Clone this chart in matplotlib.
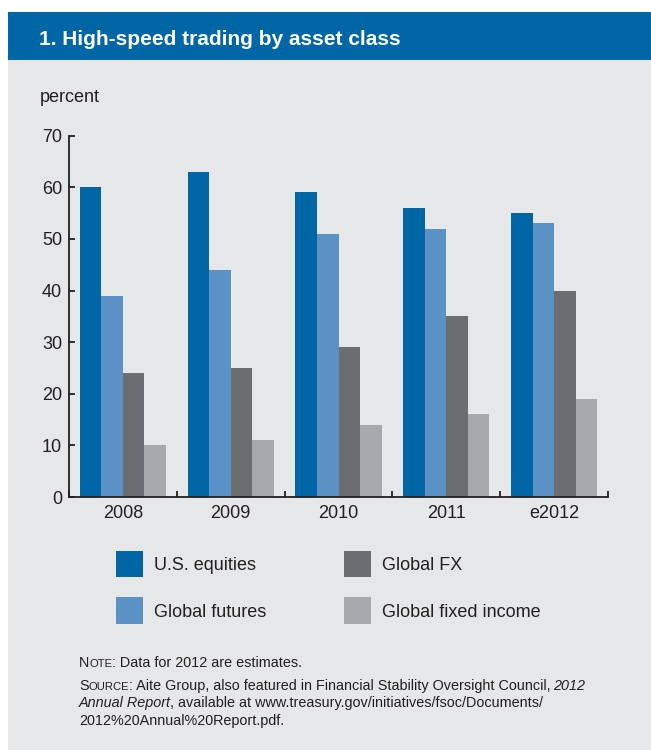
import numpy as np
import matplotlib.pyplot as plt
from matplotlib.patches import Rectangle

# data
years = ["2008", "2009", "2010", "2011", "e2012"]
us_equities = [60, 63, 59, 56, 55]
global_futures = [39, 44, 51, 52, 53]
global_fx = [24, 25, 29, 35, 40]
global_fixed_income = [10, 11, 14, 16, 19]
series_names = ["U.S. equities", "Global futures", "Global FX", "Global fixed income"]
y_ticks = [0, 10, 20, 30, 40, 50, 60, 70]

colors = ["#0065A4", "#5B92C5", "#6C6D71", "#A7A8AB"]
bg = "#E6E7E9"
ink = "#231F20"

plt.rcParams["font.family"] = ["Liberation Sans", "DejaVu Sans"]

W, H = 651, 750
fig = plt.figure(figsize=(W / 100, H / 100), dpi=100)
fig.patch.set_facecolor("white")

def px(x, y):
    # pixel (from top-left) -> figure fraction
    return x / W, 1 - y / H

# grey panel + blue title bar
fig.patches.append(Rectangle((8 / W, 0), 1, 1 - 60 / H, transform=fig.transFigure,
                             facecolor=bg, edgecolor="none", zorder=-2))
fig.patches.append(Rectangle((8 / W, 1 - 60 / H), 1, 48.5 / H, transform=fig.transFigure,
                             facecolor="#0066A6", edgecolor="none", zorder=-2))
fig.text(*px(39, 45), "1. High-speed trading by asset class", color="white",
         fontsize=15, fontweight="bold", va="baseline", ha="left")
fig.text(*px(40, 98), "percent", color=ink, fontsize=13, va="center", ha="left")

# axes
ax = fig.add_axes([69 / W, 1 - 497 / H, (608 - 69) / W, (497 - 135.7) / H])
ax.set_facecolor("none")
x = np.arange(len(years))
all_series = [us_equities, global_futures, global_fx, global_fixed_income]
bars = []
for i, (vals, c, name) in enumerate(zip(all_series, colors, series_names)):
    b = ax.bar(x + (i - 1.5) * 0.2, vals, width=0.2, color=c, label=name, linewidth=0)
    bars.append(b)

ax.set_xlim(-0.5, len(years) - 0.5)
ax.set_ylim(0, 70)
ax.set_yticks(y_ticks)
ax.set_xticks(np.arange(len(years) + 1) - 0.5)
ax.set_xticklabels([])
ax.set_xticks(x, minor=True)
ax.set_xticklabels(years, minor=True)
for s in ["top", "right"]:
    ax.spines[s].set_visible(False)
for s in ["left", "bottom"]:
    ax.spines[s].set_color(ink)
    ax.spines[s].set_linewidth(1.3)
ax.tick_params(axis="both", which="major", direction="in", length=4.5, width=1.3,
               color=ink, labelsize=13, labelcolor=ink)
ax.tick_params(axis="y", pad=5)
ax.tick_params(axis="x", which="minor", length=0, pad=6, labelsize=13, labelcolor=ink)

# legend
fig.legend(handles=bars, labels=series_names, ncol=2, loc="upper left",
           bbox_to_anchor=px(116, 550.5), frameon=False, fontsize=13,
           handlelength=1.5, handleheight=1.92, handletextpad=0.6,
           columnspacing=4.3, labelspacing=1.1, borderpad=0, borderaxespad=0,
           labelcolor=ink)

# notes with small caps and italics, pieced together
def chain(pieces, x0, y0):
    prev = None
    for txt, sz, style, dx in pieces:
        if prev is None:
            prev = fig.text(*px(x0, y0), txt, fontsize=sz, style=style, color=ink,
                            va="baseline", ha="left")
        else:
            prev = ax.annotate(txt, xy=(1, px(x0, y0)[1]),
                               xycoords=(prev, "figure fraction"),
                               xytext=(dx, 0), textcoords="offset pixels",
                               fontsize=sz, style=style, color=ink,
                               va="baseline", ha="left", annotation_clip=False)

fs = 10.4
sc = 8.1
chain([("N", fs, "normal", 0), ("OTE", sc, "normal", 0.3),
       (": Data for 2012 are estimates.", fs, "normal", -0.3)], 79, 667)
chain([("S", fs, "normal", 0), ("OURCE", sc, "normal", 0.3),
       (": Aite Group, also featured in Financial Stability Oversight Council, ", fs, "normal", -0.8),
       ("2012", fs, "italic", -1)], 79, 690)
chain([("Annual Report", fs, "italic", 0),
       (", available at www.treasury.gov/initiatives/fsoc/Documents/", fs, "normal", -1.5)], 79, 707.5)
chain([("2012%20Annual%20Report.pdf.", fs, "normal", 0)], 79, 725)

fig.savefig("out.png", dpi=100, facecolor=fig.get_facecolor())
